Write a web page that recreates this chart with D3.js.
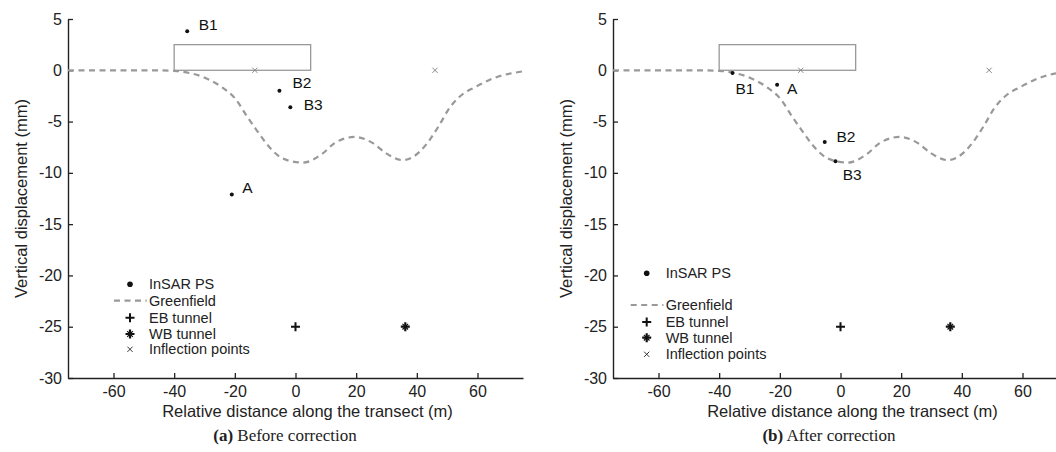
<!DOCTYPE html>
<html>
<head>
<meta charset="utf-8">
<script src="https://cdn.jsdelivr.net/npm/d3@7"></script>
<style>
  body { margin: 0; background: #fff; }
  svg { display: block; font-family: "Liberation Sans", Arial, sans-serif; }
</style>
</head>
<body>
<div id="chart"></div>
<script>
// Data

const xTicks = [-60, -40, -20, 0, 20, 40, 60];
const yTicks = [5, 0, -5, -10, -15, -20, -25, -30];

const greenfieldX = [-75, -48, -40, -37, -30.5, -24.5, -19.5, -16.2, -12.9, -9.7, -5.8, -1, 2.4, 9, 12.9, 19.4, 25.5, 29.9, 35.4, 40.9, 44.2, 47.4, 50.7, 54, 59.5, 65, 75];
const greenfieldY = [0, 0, -0.05, -0.16, -0.65, -1.6, -2.9, -4.4, -5.8, -7.1, -8.3, -8.9, -9.0, -8.1, -7.1, -6.5, -7.1, -8.1, -8.76, -7.95, -6.8, -5.35, -3.7, -2.6, -1.6, -0.81, -0.1];

const psNames = ["B1", "B2", "B3", "A"];
const psXBefore = [-35.7, -5.3, -1.7, -21.0];
const psYBefore = [3.8, -2.0, -3.6, -12.1];
const psXAfter = [-35.6, -5.2, -1.65, -20.9];
const psYAfter = [-0.26, -7.0, -8.86, -1.4];

const tunnelX = [0, 36.2];
const tunnelY = [-25, -25];

const inflectionXBefore = [-13.4, 46.0];
const inflectionXAfter = [-13.1, 49.0];

const buildingX = [-40, 5];
const buildingY = [0, 2.5];

const legendLabels = ["InSAR PS", "Greenfield", "EB tunnel", "WB tunnel", "Inflection points"];

// Layout

const width = 1056;
const height = 452;

const svg = d3
  .select("#chart")
  .append("svg")
  .attr("width", width)
  .attr("height", height);

const ebPath = "M-4.5,0H4.5M0,-4.5V4.5";
const wbDiagPath = "M-2.8,-2.8L2.8,2.8M-2.8,2.8L2.8,-2.8";
const crossPath = "M-2.6,-2.6L2.6,2.6M-2.6,2.6L2.6,-2.6";

createPanel({
  left: 68,
  psX: psXBefore,
  psY: psYBefore,
  inflectionX: inflectionXBefore,
  labelOffsets: { B1: [11.5, -1.7], B2: [13, -2.4], B3: [13.3, 2.7], A: [10.4, -1.6] },
  legendX: 130,
  legendRows: [284.3, 300.7, 317.7, 334, 349.3],
  captionX: 285,
  captionTag: "(a)",
  captionText: " Before correction",
});

createPanel({
  left: 613,
  psX: psXAfter,
  psY: psYAfter,
  inflectionX: inflectionXAfter,
  labelOffsets: { B1: [3, 21.3], B2: [11.7, -0.3], B3: [7.3, 19], A: [10, 9.7] },
  legendX: 646.7,
  legendRows: [273.3, 305, 322, 337.7, 354.3],
  captionX: 829,
  captionTag: "(b)",
  captionText: " After correction",
});

function drawWB(g, x, y) {
  g.append("path")
    .attr("transform", `translate(${x}, ${y})`)
    .attr("d", ebPath)
    .attr("stroke", "#111")
    .attr("stroke-width", 2.2);
  g.append("path")
    .attr("transform", `translate(${x}, ${y})`)
    .attr("d", wbDiagPath)
    .attr("stroke", "#111")
    .attr("stroke-width", 1.2);
}

function createPanel(p) {
  const plotW = 455;
  const top = 19;
  const bottom = 378;

  const g = svg.append("g");

  const xScale = d3.scaleLinear().domain([-75, 75]).range([p.left, p.left + plotW]);
  const yScale = d3.scaleLinear().domain([-30, 5]).range([bottom, top]);

  // Axes (ticks pointing inward, plain hyphen minus)

  const xAxis = g
    .append("g")
    .attr("transform", `translate(0, ${bottom})`)
    .call(
      d3.axisBottom(xScale)
        .tickValues(xTicks)
        .tickFormat((d) => String(d))
        .tickSize(-5)
        .tickPadding(8)
        .tickSizeOuter(0)
    );

  const yAxis = g
    .append("g")
    .attr("transform", `translate(${p.left}, 0)`)
    .call(
      d3.axisLeft(yScale)
        .tickValues(yTicks)
        .tickFormat((d) => String(d))
        .tickSize(-5)
        .tickPadding(6)
        .tickSizeOuter(0)
    );

  [xAxis, yAxis].forEach((a) => {
    a.select(".domain").attr("stroke", "#222").attr("stroke-width", 1.4);
    a.selectAll(".tick line").attr("stroke", "#222").attr("stroke-width", 1.3);
    a.selectAll(".tick text")
      .attr("fill", "#222")
      .style("font-family", "'Liberation Sans', Arial, sans-serif")
      .style("font-size", "16px");
  });

  g.append("text")
    .attr("x", (p.left + p.left + plotW) / 2 + 12)
    .attr("y", 417)
    .attr("text-anchor", "middle")
    .attr("fill", "#222")
    .style("font-size", "16.5px")
    .text("Relative distance along the transect (m)");

  g.append("text")
    .attr("transform", `translate(${p.left - 41}, ${(top + bottom) / 2}) rotate(-90)`)
    .attr("text-anchor", "middle")
    .attr("fill", "#222")
    .style("font-size", "16.5px")
    .text("Vertical displacement (mm)");

  // Building footprint

  g.append("rect")
    .attr("x", xScale(buildingX[0]))
    .attr("y", yScale(buildingY[1]))
    .attr("width", xScale(buildingX[1]) - xScale(buildingX[0]))
    .attr("height", yScale(buildingY[0]) - yScale(buildingY[1]))
    .attr("fill", "none")
    .attr("stroke", "#999")
    .attr("stroke-width", 1.3);

  // Greenfield curve

  const greenfield = greenfieldX.map((x, i) => ({ x: x, y: greenfieldY[i] }));

  g.append("path")
    .datum(greenfield)
    .attr("fill", "none")
    .attr("stroke", "#999")
    .attr("stroke-width", 2.2)
    .attr("stroke-dasharray", "6,4.5")
    .attr(
      "d",
      d3
        .line()
        .x((d) => xScale(d.x))
        .y((d) => yScale(d.y))
        .curve(d3.curveMonotoneX)
    );

  // Inflection points

  g.selectAll(".inflection")
    .data(p.inflectionX)
    .enter()
    .append("path")
    .attr("transform", (d) => `translate(${xScale(d)}, ${yScale(0)})`)
    .attr("d", crossPath)
    .attr("stroke", "#888")
    .attr("stroke-width", 1);

  // Tunnels

  g.append("path")
    .attr("transform", `translate(${xScale(tunnelX[0])}, ${yScale(tunnelY[0])})`)
    .attr("d", ebPath)
    .attr("stroke", "#111")
    .attr("stroke-width", 2);

  drawWB(g, xScale(tunnelX[1]), yScale(tunnelY[1]));

  // InSAR PS points

  const ps = psNames.map((name, i) => ({ name: name, x: p.psX[i], y: p.psY[i] }));

  g.selectAll(".ps")
    .data(ps)
    .enter()
    .append("circle")
    .attr("cx", (d) => xScale(d.x))
    .attr("cy", (d) => yScale(d.y))
    .attr("r", 2)
    .attr("fill", "#111");

  g.selectAll(".ps-label")
    .data(ps)
    .enter()
    .append("text")
    .attr("x", (d) => xScale(d.x) + p.labelOffsets[d.name][0])
    .attr("y", (d) => yScale(d.y) + p.labelOffsets[d.name][1])
    .attr("fill", "#111")
    .style("font-size", "15.5px")
    .text((d) => d.name);

  // Legend

  const lx = p.legendX;
  const rows = p.legendRows;

  g.append("circle").attr("cx", lx).attr("cy", rows[0]).attr("r", 2.8).attr("fill", "#111");

  g.append("line")
    .attr("x1", lx - 16)
    .attr("x2", lx + 16.7)
    .attr("y1", rows[1])
    .attr("y2", rows[1])
    .attr("stroke", "#999")
    .attr("stroke-width", 2.2)
    .attr("stroke-dasharray", "6,4.5");

  g.append("path")
    .attr("transform", `translate(${lx}, ${rows[2]})`)
    .attr("d", ebPath)
    .attr("stroke", "#111")
    .attr("stroke-width", 2);

  drawWB(g, lx, rows[3]);

  g.append("path")
    .attr("transform", `translate(${lx}, ${rows[4]})`)
    .attr("d", crossPath)
    .attr("stroke", "#333")
    .attr("stroke-width", 1);

  g.selectAll(".legend-text")
    .data(legendLabels)
    .enter()
    .append("text")
    .attr("x", lx + 19)
    .attr("y", (d, i) => rows[i] + 5)
    .attr("fill", "#222")
    .style("font-size", "14.5px")
    .text((d) => d);

  // Caption

  const caption = g
    .append("text")
    .attr("x", p.captionX)
    .attr("y", 441)
    .attr("text-anchor", "middle")
    .attr("fill", "#222")
    .style("font-family", "'Liberation Serif', 'Times New Roman', serif")
    .style("font-size", "17px");

  caption.append("tspan").style("font-weight", "bold").text(p.captionTag);
  caption.append("tspan").text(p.captionText);
}
</script>
</body>
</html>
